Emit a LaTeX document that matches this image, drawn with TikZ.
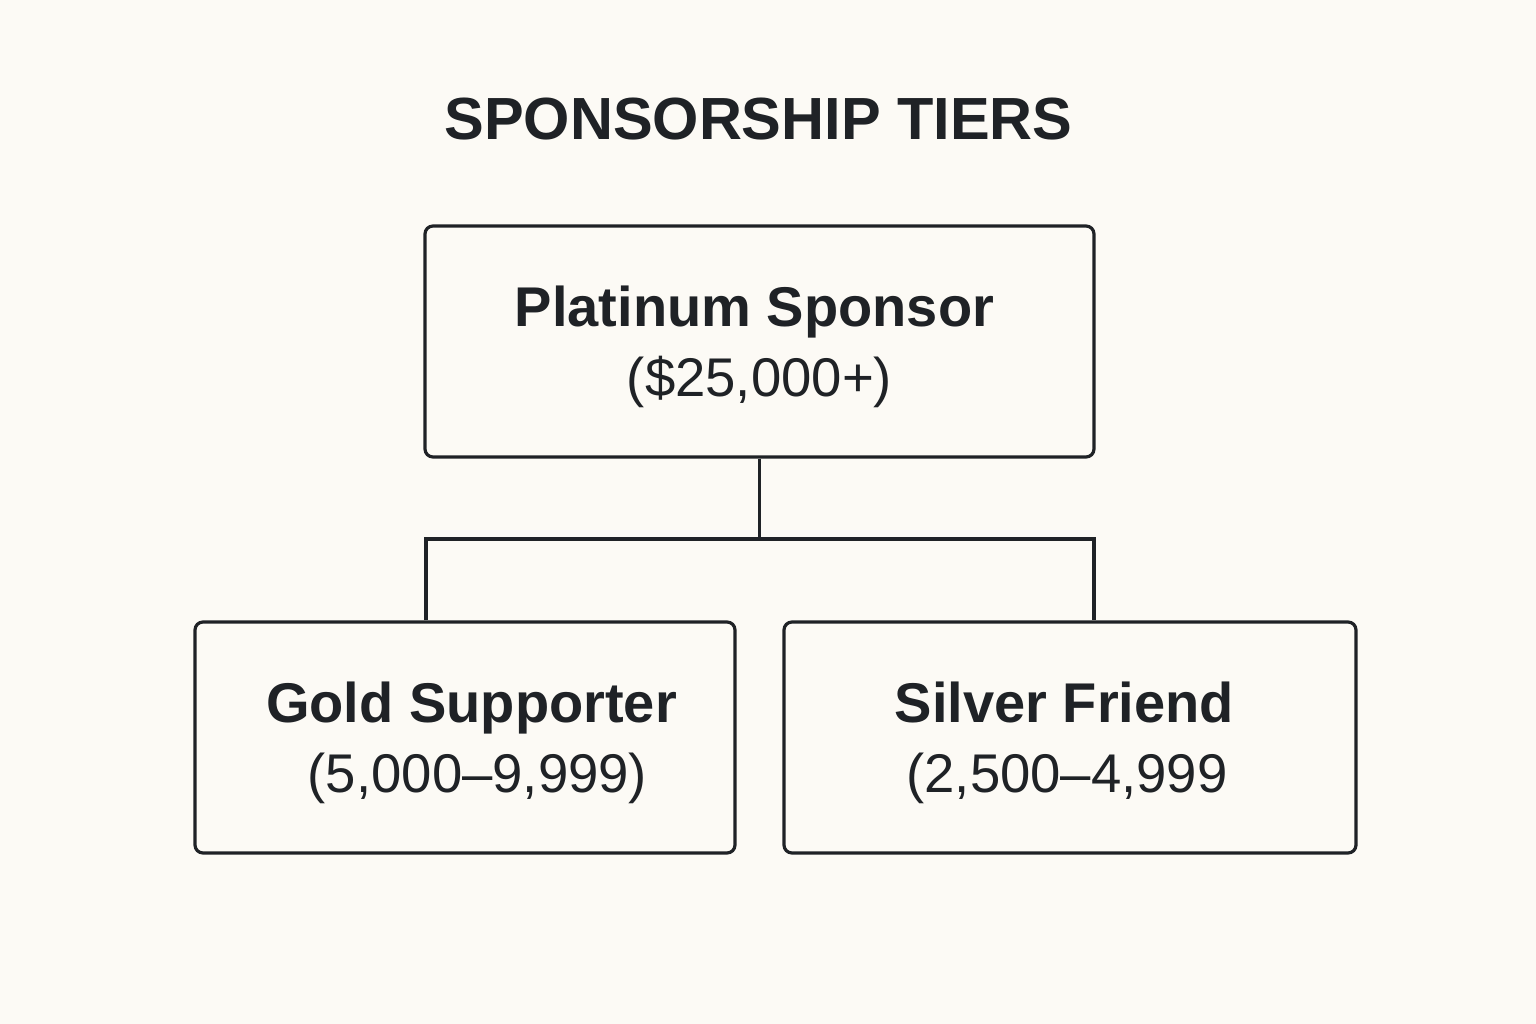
\documentclass[tikz,border=0pt]{standalone}
\usepackage{fontspec}
\setmainfont{Liberation Sans}
\definecolor{bgc}{HTML}{FCFAF5}
\definecolor{ink}{HTML}{1F2226}
\begin{document}
\begin{tikzpicture}[x=1pt,y=-1pt,
  tier/.style={draw=ink, line width=3.2pt, rounded corners=8pt, fill=bgc,
    align=center, text=ink, inner sep=0pt,
    font=\fontsize{56}{70}\selectfont\bfseries},
  conn/.style={draw=ink, line width=3.2pt}]
\fill[bgc] (0,0) rectangle (1536,1024);
\useasboundingbox (0,0) rectangle (1536,1024);
\node[text=ink, font=\fontsize{59.5}{70}\selectfont\bfseries] (title) at (758.5,119.5) {SPONSORSHIP TIERS};
\node[tier, minimum width=669pt, minimum height=231pt] (plat) at (759.5,341.5)
  {\rule{0pt}{52pt}Platinum Sponsor\kern10pt\\ \fontsize{54.5}{70}\selectfont\mdseries (\$25,000+)};
\node[tier, minimum width=540pt, minimum height=231pt] (gold) at (465,737.5)
  {\rule{0pt}{52pt}\kern13pt Gold Supporter\\ \fontsize{54.5}{70}\selectfont\mdseries \kern25pt(5,000–9,999)};
\node[tier, minimum width=572pt, minimum height=231pt] (silver) at (1070,737.5)
  {\rule{0pt}{52pt}Silver Friend\kern11pt\\ \fontsize{54.5}{70}\selectfont\mdseries (2,500–4,999\kern6pt};
\coordinate (gl) at (426,539);
\coordinate (gr) at (1094,539);
\draw[conn] (plat.south) -- (plat.south |- gl);
\draw[conn, line join=miter] (gold.north -| gl) -- (gl) -- (gr) -- (silver.north -| gr);
\end{tikzpicture}
\end{document}
